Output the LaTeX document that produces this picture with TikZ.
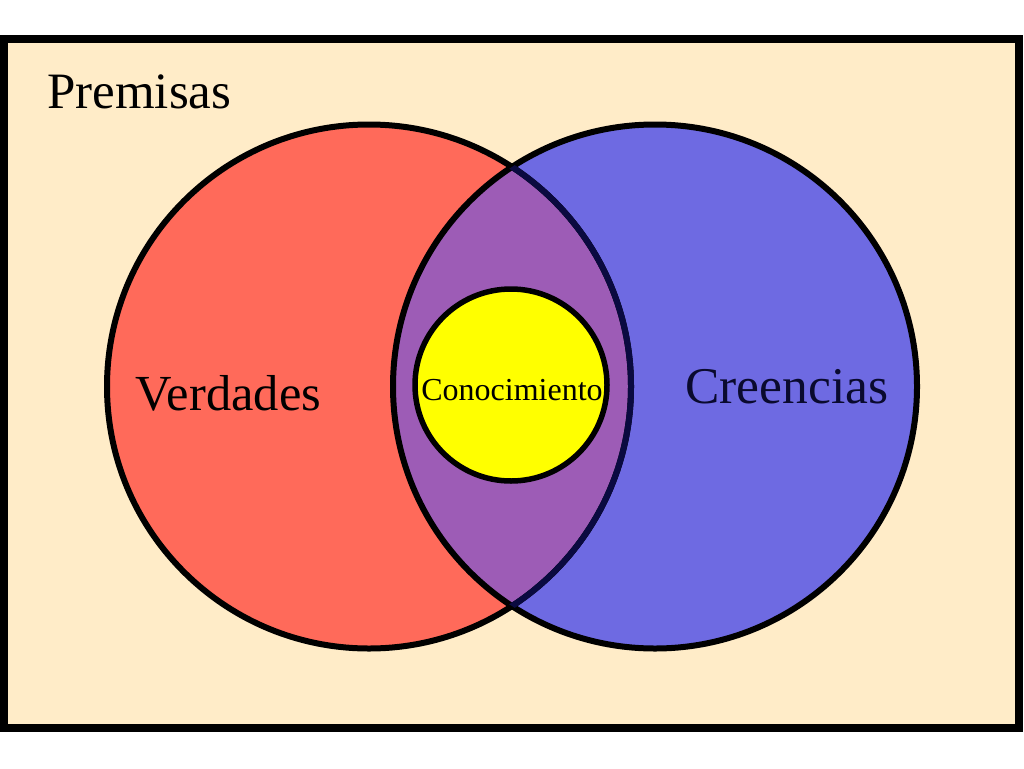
\documentclass[tikz,border=0pt]{standalone}
\usepackage{fontspec}
\setmainfont{Liberation Serif}
\definecolor{cream}{HTML}{FFECC8}
\definecolor{vred}{HTML}{FF6A5A}
\definecolor{vblue}{HTML}{6E6AE2}
\definecolor{vpurple}{HTML}{9D5CB6}
\definecolor{vyellow}{HTML}{FFFF00}
\definecolor{navy}{HTML}{0A0A40}
\definecolor{navytext}{HTML}{0A0A2E}
\tikzset{
  ring/.style={line width=6pt},
  lbl/.style={inner sep=0pt, anchor=base}
}
\begin{document}
\begin{tikzpicture}[x=1pt,y=-1pt]
\useasboundingbox (0,0) rectangle (1024,768);
\fill[white] (0,0) rectangle (1024,768);
\draw[line width=8pt, fill=cream] (4,39) rectangle (1019,728);
% fills
\fill[vred] (369,386.5) circle (262);
\fill[vblue] (655,386.5) circle (262);
\begin{scope}
  \clip (369,386.5) circle (262);
  \fill[vpurple] (655,386.5) circle (262);
\end{scope}
% outlines
\draw[ring] (369,386.5) circle (262);
\draw[ring] (655,386.5) circle (262);
\begin{scope}
  \clip (655,386.5) circle (262);
  \draw[ring, navy] (369,386.5) circle (262);
\end{scope}
% knowledge
\draw[line width=5.5pt, fill=vyellow] (511,385) circle (96);
% labels
\node[inner sep=0pt, anchor=base west, font=\fontsize{51}{51}\selectfont] (premisas) at (47,108) {Premisas};
\node[lbl, font=\fontsize{50.5}{50.5}\selectfont] (verdades) at (228.5,410) {Verdades};
\node[lbl, text=navytext, font=\fontsize{51.5}{51.5}\selectfont] (creencias) at (787,403) {Creencias};
\node[lbl, font=\fontsize{32}{32}\selectfont] (conoc) at (512,400) {Conocimiento};
\end{tikzpicture}
\end{document}
